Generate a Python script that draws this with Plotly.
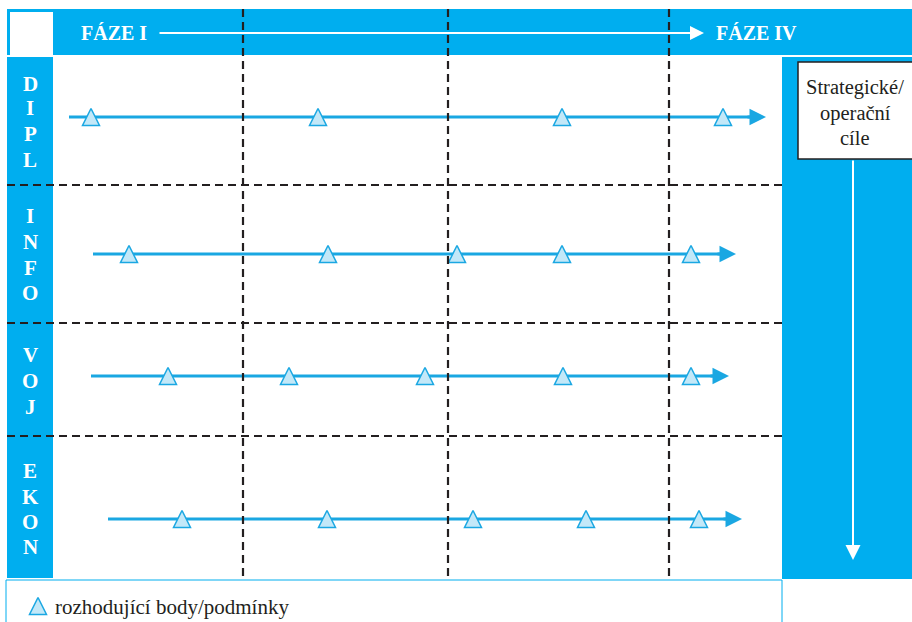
import plotly.graph_objects as go

# ---- data ----
rows = ["DIPL", "INFO", "VOJ", "EKON"]
row_y = [117, 254, 376, 519]
arrow_start = [69, 93, 91, 108]
arrow_end = [766, 736, 729, 742]
decision_points = [
    [91, 318, 562, 723],
    [129, 328, 457, 562, 691],
    [168, 289, 425, 563, 691],
    [182, 327, 473, 586, 699],
]
letter_y = [
    [84, 108, 134, 160],
    [216, 242, 268, 293],
    [355, 381, 407],
    [471, 497, 522, 547],
]
phase_bounds = [243, 448, 669]
row_bounds = [185, 323, 436]
phase_labels = ["FÁZE I", "FÁZE IV"]
goal_lines = ["Strategické/", "operační", "cíle"]
legend_text = "rozhodující body/podmínky"

BLUE = "#00AEEF"
LINE = "#1AA7E2"
TRI_FILL = "#C3E8F8"
DASH = "#231F20"
SERIF = "Liberation Serif, Times New Roman, serif"

W, H = 912, 622
TRI = 17  # marker size in px; arrow-up apex sits on the point, so a shifted axis centres it
fig = go.Figure()
shapes = []
ann = []

# background blocks
shapes.append(dict(type="rect", x0=7, x1=912, y0=9, y1=55, fillcolor=BLUE, line_width=0, layer="below"))
shapes.append(dict(type="rect", x0=10, x1=53, y0=12, y1=55, fillcolor="white", line_width=0, layer="below"))
shapes.append(dict(type="rect", x0=7, x1=53, y0=57, y1=578, fillcolor=BLUE, line_width=0, layer="below"))
shapes.append(dict(type="rect", x0=782, x1=912, y0=57, y1=579, fillcolor=BLUE, line_width=0, layer="below"))
shapes.append(dict(type="rect", x0=6, x1=782, y0=580, y1=623, fillcolor="rgba(0,0,0,0)",
                   line=dict(color=BLUE, width=1), layer="below"))
shapes.append(dict(type="rect", x0=798, x1=913, y0=62, y1=159, fillcolor="white",
                   line=dict(color="#231F20", width=1.5), layer="below"))

# dashed grid lines
for xb in phase_bounds:
    shapes.append(dict(type="line", x0=xb, x1=xb, y0=9, y1=578,
                       line=dict(color=DASH, width=2.2, dash="8px,5px"), layer="above"))
for yb in row_bounds:
    shapes.append(dict(type="line", x0=7, x1=782, y0=yb, y1=yb,
                       line=dict(color=DASH, width=2.2, dash="8px,5px"), layer="above"))

# row arrows (lines) + decision triangles
for i, name in enumerate(rows):
    fig.add_trace(go.Scatter(x=[arrow_start[i], arrow_end[i] - 10], y=[row_y[i], row_y[i]],
                             mode="lines", line=dict(color=LINE, width=3),
                             hoverinfo="skip", showlegend=False))
    ann.append(dict(x=arrow_end[i], y=row_y[i], ax=arrow_end[i] - 20, ay=row_y[i],
                    xref="x", yref="y", axref="x", ayref="y", text="", showarrow=True,
                    arrowhead=2, arrowsize=1.1, arrowwidth=3, arrowcolor=LINE))
    fig.add_trace(go.Scatter(x=decision_points[i], y=[row_y[i]] * len(decision_points[i]),
                             yaxis="y2", mode="markers",
                             marker=dict(symbol="arrow-up", size=TRI, color=TRI_FILL,
                                         line=dict(color=LINE, width=1.5)),
                             hoverinfo="skip", showlegend=False))
    for ch, ly in zip(name, letter_y[i]):
        ann.append(dict(x=30, y=ly, xref="x", yref="y", text=f"<b>{ch}</b>", showarrow=False,
                        font=dict(family=SERIF, size=21, color="white")))

# header
ann.append(dict(x=79, y=33, xref="x", yref="y", text=f"<b>{phase_labels[0]}</b>", showarrow=False,
                xanchor="left", font=dict(family=SERIF, size=20, color="white")))
ann.append(dict(x=714, y=33, xref="x", yref="y", text=f"<b>{phase_labels[1]}</b>", showarrow=False,
                xanchor="left", font=dict(family=SERIF, size=20, color="white")))
ann.append(dict(x=704, y=33, ax=158, ay=33, xref="x", yref="y", axref="x", ayref="y", text="",
                showarrow=True, arrowhead=2, arrowsize=1.4, arrowwidth=2, arrowcolor="white"))

# right goal box
for j, (t, ty) in enumerate(zip(goal_lines, [87, 113, 138])):
    ann.append(dict(x=855, y=ty, xref="x", yref="y", text=t, showarrow=False,
                    font=dict(family=SERIF, size=20.5, color="#231F20")))
ann.append(dict(x=853, y=560, ax=853, ay=159, xref="x", yref="y", axref="x", ayref="y", text="",
                showarrow=True, arrowhead=2, arrowsize=1.5, arrowwidth=2, arrowcolor="white"))

# legend
fig.add_trace(go.Scatter(x=[38], y=[606], yaxis="y2", mode="markers",
                         marker=dict(symbol="arrow-up", size=TRI, color=TRI_FILL,
                                     line=dict(color=LINE, width=1.5)),
                         hoverinfo="skip", showlegend=False))
ann.append(dict(x=53, y=607, xref="x", yref="y", text=legend_text, showarrow=False, xanchor="left",
                font=dict(family=SERIF, size=21, color="#231F20")))

half = TRI / 2
fig.update_layout(
    width=W, height=H, margin=dict(l=0, r=0, t=0, b=0),
    paper_bgcolor="white", plot_bgcolor="white",
    xaxis=dict(range=[0, W], visible=False, fixedrange=True),
    yaxis=dict(range=[H, 0], visible=False, fixedrange=True),
    yaxis2=dict(range=[H + half, half], visible=False, fixedrange=True, overlaying="y"),
    shapes=shapes, annotations=ann, showlegend=False,
)
fig.write_html("out.html", config={"displayModeBar": False},
               post_script="document.body.style.margin='0px';document.body.style.overflow='hidden';")
